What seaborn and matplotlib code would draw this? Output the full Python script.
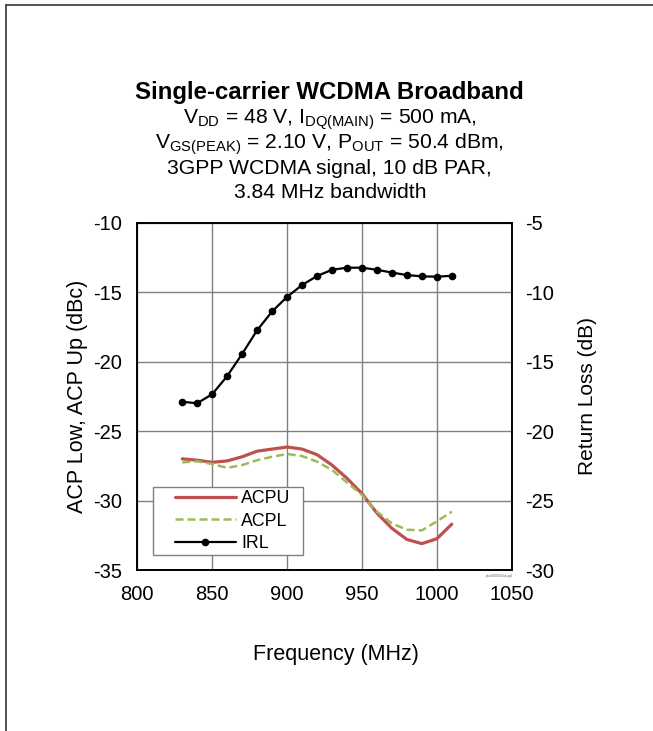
#!/usr/bin/env python3
"""Single-carrier WCDMA broadband: ACP and return loss vs frequency."""

import matplotlib
matplotlib.use("Agg")
import matplotlib.pyplot as plt
from matplotlib.lines import Line2D
from matplotlib.patches import Rectangle
import pandas as pd
import seaborn as sns

# data
freq = [830, 840, 850, 860, 870, 880, 890, 900, 910, 920,
        930, 940, 950, 960, 970, 980, 990, 1000, 1010]
acpu = [-27.0, -27.1, -27.25, -27.15, -26.85, -26.45, -26.3, -26.15, -26.3, -26.7,
        -27.45, -28.4, -29.5, -30.9, -32.0, -32.8, -33.1, -32.75, -31.7]
acpl = [-27.25, -27.18, -27.37, -27.65, -27.45, -27.1, -26.85, -26.65, -26.8, -27.2,
        -27.8, -28.7, -29.6, -30.8, -31.65, -32.1, -32.15, -31.5, -30.8]
irl = [-17.9, -18.0, -17.35, -16.05, -14.45, -12.75, -11.4, -10.35, -9.5, -8.85,
       -8.4, -8.25, -8.25, -8.4, -8.6, -8.78, -8.87, -8.9, -8.83]

x_ticks = [800, 850, 900, 950, 1000, 1050]
left_ticks = [-35, -30, -25, -20, -15, -10]
right_ticks = [-30, -25, -20, -15, -10, -5]

sns.set_style("white")
plt.rcParams["font.family"] = ["Liberation Sans", "DejaVu Sans"]
plt.rcParams["mathtext.default"] = "regular"
plt.rcParams["axes.unicode_minus"] = False
plt.rcParams["text.color"] = "black"
plt.rcParams["axes.labelcolor"] = "black"
plt.rcParams["xtick.color"] = "black"
plt.rcParams["ytick.color"] = "black"

df = pd.DataFrame({"freq": freq, "ACPU": acpu, "ACPL": acpl, "IRL": irl})

fig = plt.figure(figsize=(6.53, 7.31), dpi=100)
ax = fig.add_axes([0.2103, 0.2202, 0.5733, 0.4754])
ax2 = ax.twinx()

sns.lineplot(data=df, x="freq", y="ACPU", ax=ax, color="#C0504D", lw=2.3,
             label="ACPU", legend=False)
sns.lineplot(data=df, x="freq", y="ACPL", ax=ax, color="#9BBB59", lw=1.8,
             linestyle=(0, (3.2, 1.6)), label="ACPL", legend=False)
sns.lineplot(data=df, x="freq", y="IRL", ax=ax2, color="black", lw=1.6,
             marker="o", markersize=5.5, markeredgewidth=0, label="IRL", legend=False)

ax.set_xlim(800, 1050)
ax.set_ylim(-35, -10)
ax2.set_ylim(-30, -5)
ax.set_xticks(x_ticks)
ax.set_yticks(left_ticks)
ax2.set_yticks(right_ticks)
ax.grid(True, color="#808080", lw=1.0)
ax.set_axisbelow(True)

for a in (ax, ax2):
    for s in a.spines.values():
        s.set_color("black")
        s.set_linewidth(1.2)
ax.tick_params(axis="both", length=0, labelsize=14.5, pad=11)
ax2.tick_params(axis="y", length=0, labelsize=14.5, pad=10)

ax.set_xlabel("Frequency (MHz)", fontsize=15.5)
ax.set_ylabel("ACP Low, ACP Up (dBc)", fontsize=15.5)
ax2.set_ylabel("Return Loss (dB)", fontsize=15)
ax.xaxis.set_label_coords(0.53, -0.213)
ax.yaxis.set_label_coords(-0.132, 0.5)
ax2.yaxis.set_label_coords(1.177, 0.5)

# legend box drawn separately so the handles get the wider left margin
ax2.add_patch(Rectangle((0.042, 0.043), 0.401, 0.196, transform=ax2.transAxes,
                        facecolor="white", edgecolor="#808080", lw=1.0, zorder=4))
h1, l1 = ax.get_legend_handles_labels()
h2, l2 = ax2.get_legend_handles_labels()
leg = ax2.legend(h1 + h2, l1 + l2, loc="center left", bbox_to_anchor=(0.1, 0.141),
                 fontsize=12.8, handlelength=3.45, frameon=False,
                 borderpad=0, labelspacing=0.32, handletextpad=0.3,
                 borderaxespad=0, numpoints=1)
leg.set_zorder(5)

fig.text(0.505, 0.8728, "Single-carrier WCDMA Broadband", ha="center", va="center",
         fontsize=17.3, fontweight="bold")
sub = [r"V$_{DD}$ = 48 V, I$_{DQ(MAIN)}$ = 500 mA,",
       r"V$_{GS(PEAK)}$ = 2.10 V, P$_{OUT}$ = 50.4 dBm,",
       "3GPP WCDMA signal, 10 dB PAR,",
       "3.84 MHz bandwidth"]
for i, line in enumerate(sub):
    fig.text(0.505, 1 - (120 + 24 * i) / 731, line, ha="center", va="center",
             fontsize=15.2)

fig.text(0.765, 0.211, "pka000002ab-gd", fontsize=2.5, color="#666666", ha="center")

# page border
fig.add_artist(Line2D([0.0095, 1.0], [0.9925, 0.9925], color="#333333", lw=1.2,
                      transform=fig.transFigure))
fig.add_artist(Line2D([0.0095, 0.0095], [0.0, 0.9925], color="#333333", lw=1.2,
                      transform=fig.transFigure))

fig.savefig("out.png", dpi=100)
